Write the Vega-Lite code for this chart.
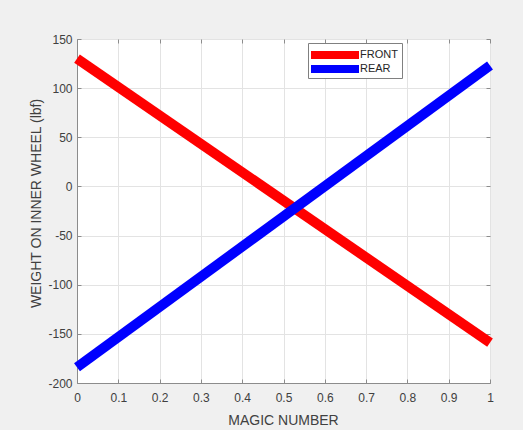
{
  "$schema": "https://vega.github.io/schema/vega-lite/v6.json",
  "width": 413,
  "height": 344,
  "autosize": {"type": "none"},
  "padding": {"left": 77, "top": 39, "right": 33, "bottom": 47},
  "background": "#f0f0f0",
  "config": {
    "font": "Liberation Sans",
    "view": {"fill": "#ffffff", "stroke": "#8c8c8c", "strokeWidth": 1},
    "axis": {
      "labelFont": "Liberation Sans",
      "titleFont": "Liberation Sans",
      "labelFontSize": 12,
      "titleFontSize": 14,
      "labelColor": "#404040",
      "titleColor": "#404040",
      "titleFontWeight": "normal",
      "domainColor": "#8c8c8c",
      "tickColor": "#8c8c8c",
      "gridColor": "#e3e3e3",
      "gridOpacity": 1,
      "tickSize": 4
    }
  },
  "data": {
    "values": [
      {"m": 0, "w": 130, "s": "FRONT"},
      {"m": 1, "w": -159, "s": "FRONT"},
      {"m": 0, "w": -184, "s": "REAR"},
      {"m": 1, "w": 123, "s": "REAR"}
    ]
  },
  "layer": [
    {
      "mark": {"type": "line", "strokeWidth": 10, "strokeCap": "butt", "clip": false},
      "encoding": {
        "x": {
          "field": "m", "type": "quantitative",
          "scale": {"domain": [0, 1], "nice": false, "zero": false},
          "axis": {
            "orient": "bottom",
            "values": [0, 0.1, 0.2, 0.3, 0.4, 0.5, 0.6, 0.7, 0.8, 0.9, 1],
            "labelExpr": "'' + datum.value",
            "ticks": false,
            "labelPadding": 9,
            "labelFlush": false,
            "title": "MAGIC NUMBER",
            "titleBaseline": "alphabetic",
            "titleY": 41,
            "titleX": 206
          }
        },
        "y": {
          "field": "w", "type": "quantitative",
          "scale": {"domain": [-200, 150], "nice": false, "zero": false},
          "axis": {
            "orient": "left",
            "values": [-200, -150, -100, -50, 0, 50, 100, 150],
            "labelExpr": "'' + datum.value",
            "ticks": false,
            "labelPadding": 5,
            "labelFlush": false,
            "title": "WEIGHT ON INNER WHEEL (lbf)",
            "titleBaseline": "alphabetic",
            "titleAngle": -90,
            "titleX": -37,
            "titleY": 164,
            "titleAlign": "center"
          }
        },
        "color": {
          "field": "s", "type": "nominal",
          "scale": {"domain": ["FRONT", "REAR"], "range": ["#ff0000", "#0000ff"]},
          "legend": {
            "orient": "none",
            "legendX": 231,
            "legendY": 4,
            "title": null,
            "symbolType": "M-6,0H6",
            "symbolSize": 64,
            "symbolStrokeWidth": 8,
            "symbolOffset": 15,
            "labelFont": "Liberation Sans",
            "labelFontSize": 11,
            "labelColor": "#262626",
            "labelOffset": 17,
            "rowPadding": 1,
            "padding": 4,
            "strokeColor": "#808080",
            "fillColor": "#ffffff",
            "encode": {
              "symbols": {"update": {"strokeJoin": {"value": "round"}}}
            }
          }
        }
      }
    },
    {
      "mark": {"type": "line", "opacity": 0},
      "encoding": {
        "x": {
          "field": "m", "type": "quantitative",
          "scale": {"domain": [0, 1], "nice": false, "zero": false},
          "axis": {
            "orient": "bottom", "offset": -4,
            "values": [0, 0.1, 0.2, 0.3, 0.4, 0.5, 0.6, 0.7, 0.8, 0.9, 1],
            "labels": false, "grid": false, "domain": false, "title": null
          }
        },
        "y": {
          "field": "w", "type": "quantitative",
          "scale": {"domain": [-200, 150], "nice": false, "zero": false},
          "axis": {
            "orient": "left", "offset": -4,
            "values": [-200, -150, -100, -50, 0, 50, 100, 150],
            "labels": false, "grid": false, "domain": false, "title": null
          }
        }
      }
    },
    {
      "mark": {"type": "line", "opacity": 0},
      "encoding": {
        "x": {
          "field": "m", "type": "quantitative",
          "scale": {"domain": [0, 1], "nice": false, "zero": false},
          "axis": {
            "orient": "top", "offset": -4,
            "values": [0, 0.1, 0.2, 0.3, 0.4, 0.5, 0.6, 0.7, 0.8, 0.9, 1],
            "labels": false, "grid": false, "domain": false, "title": null
          }
        },
        "y": {
          "field": "w", "type": "quantitative",
          "scale": {"domain": [-200, 150], "nice": false, "zero": false},
          "axis": {
            "orient": "right", "offset": -4,
            "values": [-200, -150, -100, -50, 0, 50, 100, 150],
            "labels": false, "grid": false, "domain": false, "title": null
          }
        }
      }
    }
  ],
  "resolve": {"axis": {"x": "independent", "y": "independent"}}
}
